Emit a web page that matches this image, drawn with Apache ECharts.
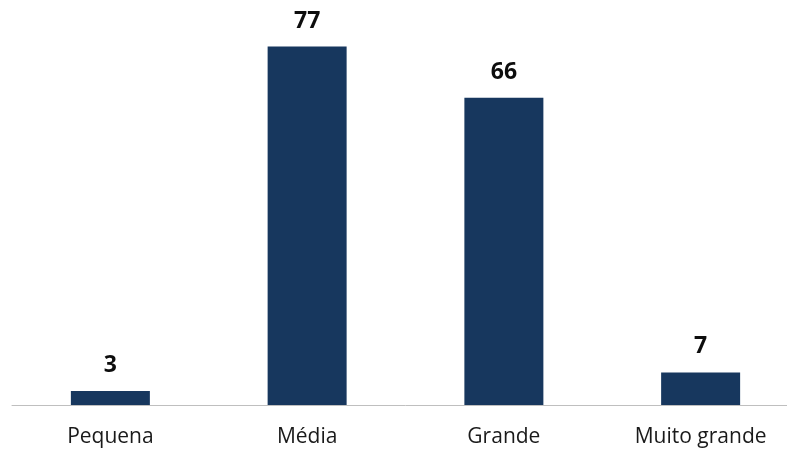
<!DOCTYPE html>
<html>
<head>
<meta charset="utf-8">
<script src="https://cdn.jsdelivr.net/npm/echarts@6/dist/echarts.min.js"></script>
<style>html,body{margin:0;padding:0;background:#fff;overflow:hidden;}#c{width:800px;height:451px;}</style>
</head>
<body>
<div id="c"></div>
<script>
const categories = ['Pequena', 'Média', 'Grande', 'Muito grande'];
const values = [3, 77, 66, 7];

const chart = echarts.init(document.getElementById('c'), null, {renderer: 'canvas'});
chart.setOption({
  animation: false,
  grid: {left: 12, top: 0, right: 1, bottom: 46},
  xAxis: {
    type: 'category',
    data: categories,
    axisLine: {lineStyle: {color: '#bfbfbf', width: 1}},
    axisTick: {show: false},
    axisLabel: {color: '#1a1a1a', fontFamily: 'Open Sans', fontSize: 21, margin: 22}
  },
  yAxis: {type: 'value', min: 0, max: 87, show: false, splitLine: {show: false}},
  series: [{
    type: 'bar',
    data: values,
    barWidth: 79,
    itemStyle: {color: '#17375e'},
    label: {show: true, position: 'top', distance: 14, color: '#0d0d0d', fontFamily: 'Open Sans', fontWeight: 'bold', fontSize: 23}
  }]
});
</script>
</body>
</html>
